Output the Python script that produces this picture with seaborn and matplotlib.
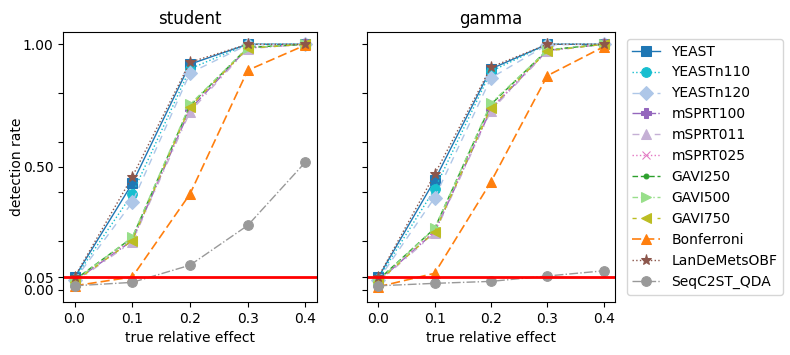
import numpy as np
import pandas as pd
import matplotlib
matplotlib.use("Agg")
import matplotlib.pyplot as plt
import seaborn as sns

effects = [0.0, 0.1, 0.2, 0.3, 0.4]
methods = ["YEAST", "YEASTn110", "YEASTn120", "mSPRT100", "mSPRT011", "mSPRT025",
           "GAVI250", "GAVI500", "GAVI750", "Bonferroni", "LanDeMetsOBF", "SeqC2ST_QDA"]

student = {
    "YEAST":        [0.050, 0.433, 0.919, 1.000, 1.000],
    "YEASTn110":    [0.045, 0.390, 0.900, 1.000, 1.000],
    "YEASTn120":    [0.040, 0.356, 0.883, 0.998, 1.000],
    "mSPRT100":     [0.035, 0.200, 0.735, 0.985, 1.000],
    "mSPRT011":     [0.030, 0.195, 0.725, 0.982, 1.000],
    "mSPRT025":     [0.035, 0.205, 0.740, 0.985, 1.000],
    "GAVI250":      [0.040, 0.212, 0.750, 0.987, 1.000],
    "GAVI500":      [0.036, 0.214, 0.755, 0.986, 1.000],
    "GAVI750":      [0.033, 0.200, 0.746, 0.984, 1.000],
    "Bonferroni":   [0.016, 0.052, 0.390, 0.894, 0.997],
    "LanDeMetsOBF": [0.052, 0.460, 0.927, 1.000, 1.000],
    "SeqC2ST_QDA":  [0.016, 0.030, 0.100, 0.262, 0.520],
}
gamma = {
    "YEAST":        [0.050, 0.446, 0.900, 1.000, 1.000],
    "YEASTn110":    [0.045, 0.410, 0.890, 1.000, 1.000],
    "YEASTn120":    [0.040, 0.375, 0.863, 0.998, 1.000],
    "mSPRT100":     [0.035, 0.235, 0.735, 0.975, 1.000],
    "mSPRT011":     [0.030, 0.230, 0.730, 0.972, 1.000],
    "mSPRT025":     [0.035, 0.240, 0.740, 0.975, 1.000],
    "GAVI250":      [0.040, 0.250, 0.755, 0.977, 1.000],
    "GAVI500":      [0.036, 0.250, 0.760, 0.976, 1.000],
    "GAVI750":      [0.033, 0.235, 0.742, 0.973, 1.000],
    "Bonferroni":   [0.012, 0.067, 0.440, 0.872, 0.990],
    "LanDeMetsOBF": [0.052, 0.470, 0.907, 1.000, 1.000],
    "SeqC2ST_QDA":  [0.016, 0.026, 0.034, 0.056, 0.077],
}
panels = ["student", "gamma"]

colors = ["#1f77b4", "#17becf", "#aec7e8", "#9467bd", "#c5b0d5", "#e377c2",
          "#2ca02c", "#98df8a", "#bcbd22", "#ff7f0e", "#8c564b", "#999999"]
markers = ["s", "o", "D", "P", "^", "x", ".", ">", "<", "^", "*", "o"]
styles = ["-", ":", (0, (5, 4)), "-.", (0, (5, 5, 1, 5)), ":",
          (0, (4, 2)), (0, (4, 2, 1, 2)), (0, (3, 6)), (0, (5.5, 2.4)), ":", "-."]
widths = [1, 1, 1, 1, 1, 1, 1, 1, 1, 1.2, 1, 1]
msizes = [7, 7, 7, 7, 7, 6, 7, 7, 7, 7, 8, 7]

rows = []
for panel, d in zip(panels, [student, gamma]):
    for m in methods:
        for x, v in zip(effects, d[m]):
            rows.append({"panel": panel, "method": m, "effect": x, "rate": v})
df = pd.DataFrame(rows)

plt.rcParams["font.family"] = ["DejaVu Sans"]
fig = plt.figure(figsize=(7.9, 3.55), dpi=100)
ax1 = fig.add_axes([63/790, 53/355, 254/790, 270/355])
ax2 = fig.add_axes([367/790, 53/355, 248/790, 270/355], sharey=ax1)

for ax, panel in zip([ax1, ax2], panels):
    sub = df[df.panel == panel]
    for i, m in enumerate(methods):
        s = sub[sub.method == m]
        sns.lineplot(data=s, x="effect", y="rate", ax=ax, color=colors[i],
                     marker=markers[i], linestyle=styles[i], linewidth=widths[i],
                     markersize=msizes[i], markeredgecolor=colors[i],
                     label=m, legend=False)
    ax.axhline(0.05, color="red", linewidth=2)
    ax.set_title(panel, fontsize=12)
    ax.set_xlabel("true relative effect")
    ax.set_xticks(effects)
    ax.set_xticklabels([f"{e:.1f}" for e in effects])

yt = [0.0, 0.05, 0.2, 0.4, 0.5, 0.6, 0.8, 1.0]
ylab = ["0.00", "0.05", "", "", "0.50", "", "", "1.00"]
ax1.set_yticks(yt)
ax1.set_yticklabels(ylab)
ax1.set_ylim(-0.05, 1.05)
ax1.set_ylabel("detection rate", labelpad=-1)
ax2.set_ylabel("")
plt.setp(ax2.get_yticklabels(), visible=False)

handles, labels = ax2.get_legend_handles_labels()
ax2.legend(handles, labels, loc="upper left", bbox_to_anchor=(1.02, 1.0),
           frameon=True, fontsize=10)

fig.savefig("out.png", dpi=100)
